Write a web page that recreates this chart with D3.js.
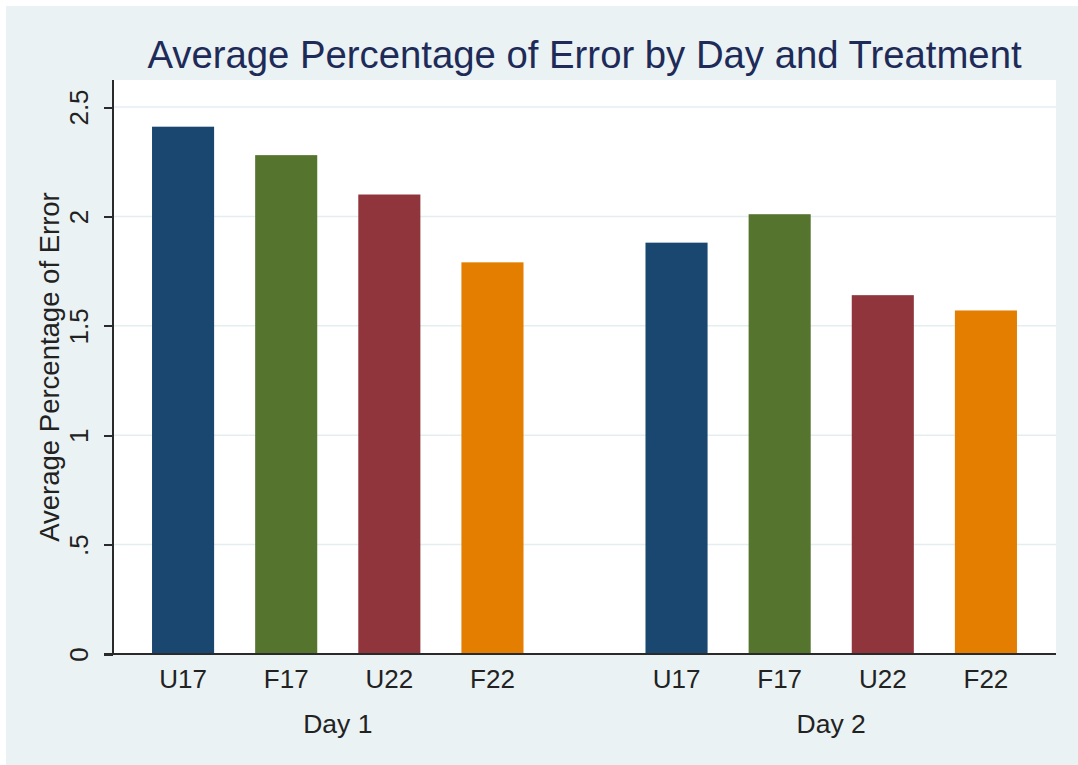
<!DOCTYPE html>
<html>
<head>
<meta charset="utf-8">
<script src="https://cdn.jsdelivr.net/npm/d3@7/dist/d3.min.js"></script>
<style>
  body { margin: 0; background: #fff; }
  svg text { font-family: "Liberation Sans", Arial, sans-serif; }
  .axis path, .axis line { stroke: #2a2a2a; stroke-width: 2px; shape-rendering: crispEdges; }
  .axis text { fill: #222; font-size: 26px; }
</style>
</head>
<body>
<div id="container"></div>
<script>
  // data
  let days = ["Day 1", "Day 2"];
  let treatments = ["U17", "F17", "U22", "F22"];
  let day1Values = [2.41, 2.28, 2.10, 1.79];
  let day2Values = [1.88, 2.01, 1.64, 1.57];
  let yTicks = [0, 0.5, 1, 1.5, 2, 2.5];
  let yTickLabels = ["0", ".5", "1", "1.5", "2", "2.5"];
  let colors = ["#1a476f", "#55752f", "#90353b", "#e37e00"];

  let width = 1078, height = 765;
  let plot = { left: 113, right: 1056, top: 80, bottom: 654 };

  let svg = d3.select("#container").append("svg")
    .attr("width", width)
    .attr("height", height);

  // graph region
  svg.append("rect")
    .attr("x", 6).attr("y", 6)
    .attr("width", width - 6).attr("height", height - 6)
    .attr("fill", "#eaf2f3");

  // plot region
  svg.append("rect")
    .attr("x", plot.left).attr("y", plot.top)
    .attr("width", plot.right - plot.left).attr("height", plot.bottom - plot.top)
    .attr("fill", "#fff");

  let scaleY = d3.scaleLinear()
    .domain([0, 2.5])
    .range([plot.bottom, 107]);

  let scaleDay = d3.scaleBand()
    .domain(days)
    .range([plot.left, plot.right])
    .paddingInner(0.164)
    .paddingOuter(0.0375);

  let scaleTreat = d3.scaleBand()
    .domain(treatments)
    .range([0, scaleDay.bandwidth()])
    .paddingInner(0.398)
    .paddingOuter(0.199);

  // grid lines
  svg.append("g")
    .selectAll("line")
    .data(yTicks.filter(d => d > 0))
    .enter().append("line")
    .attr("x1", plot.left).attr("x2", plot.right)
    .attr("y1", d => scaleY(d)).attr("y2", d => scaleY(d))
    .attr("stroke", "#e4edf0")
    .attr("stroke-width", 1.5);

  // bars
  let rows = [day1Values, day2Values];
  let groups = svg.append("g")
    .selectAll("g")
    .data(days)
    .enter().append("g")
    .attr("transform", d => "translate(" + scaleDay(d) + ",0)");

  groups.selectAll("rect")
    .data((d, i) => rows[i].map((v, j) => ({ t: treatments[j], v: v, c: colors[j] })))
    .enter().append("rect")
    .attr("x", d => scaleTreat(d.t))
    .attr("width", scaleTreat.bandwidth())
    .attr("y", d => scaleY(d.v))
    .attr("height", d => plot.bottom - scaleY(d.v))
    .attr("fill", d => d.c);

  // y axis
  let yAxis = d3.axisLeft(scaleY)
    .tickValues(yTicks)
    .tickFormat((d, i) => yTickLabels[i])
    .tickSize(9)
    .tickSizeOuter(0)
    .tickPadding(16);

  let gy = svg.append("g")
    .attr("class", "y axis")
    .attr("transform", "translate(" + plot.left + ",0)")
    .call(yAxis);
  gy.select(".domain").attr("d", "M0," + plot.top + "V" + plot.bottom);
  gy.selectAll(".tick text")
    .attr("transform", "rotate(-90)")
    .attr("x", 0)
    .attr("y", -25)
    .attr("dy", 0)
    .attr("text-anchor", "middle");

  // x axis line
  svg.append("line")
    .attr("class", "xline")
    .attr("x1", plot.left - 9).attr("x2", plot.right)
    .attr("y1", plot.bottom).attr("y2", plot.bottom)
    .attr("stroke", "#2a2a2a").attr("stroke-width", 2);

  // category labels
  groups.selectAll("text.cat")
    .data(treatments)
    .enter().append("text")
    .attr("class", "cat")
    .attr("x", d => scaleTreat(d) + scaleTreat.bandwidth() / 2)
    .attr("y", 688)
    .attr("text-anchor", "middle")
    .attr("fill", "#222")
    .style("font-size", "26px")
    .text(d => d);

  groups.append("text")
    .attr("x", scaleDay.bandwidth() / 2)
    .attr("y", 733)
    .attr("text-anchor", "middle")
    .attr("fill", "#222")
    .style("font-size", "26.5px")
    .text(d => d);

  // y axis title
  svg.append("text")
    .attr("transform", "translate(59," + ((plot.top + plot.bottom) / 2) + ") rotate(-90)")
    .attr("text-anchor", "middle")
    .attr("fill", "#222")
    .style("font-size", "27.5px")
    .text("Average Percentage of Error");

  // title
  svg.append("text")
    .attr("x", (plot.left + plot.right) / 2)
    .attr("y", 68)
    .attr("text-anchor", "middle")
    .attr("fill", "#1e2b58")
    .style("font-size", "38.3px")
    .text("Average Percentage of Error by Day and Treatment");
</script>
</body>
</html>
